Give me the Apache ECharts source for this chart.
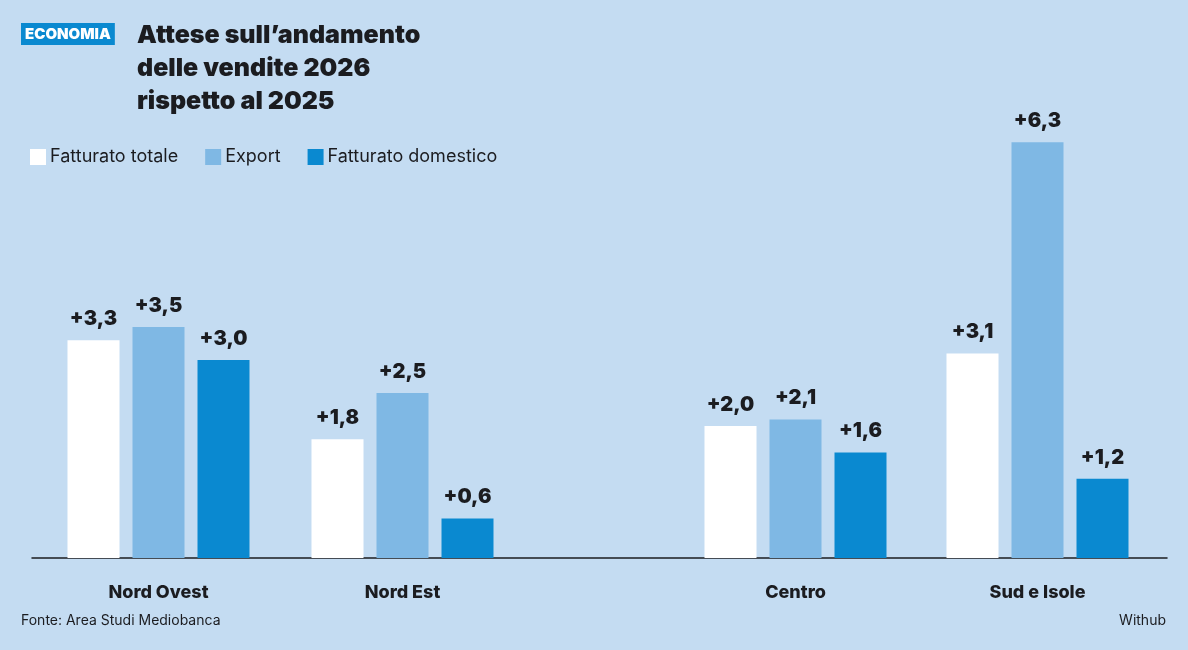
<!DOCTYPE html>
<html>
<head>
<meta charset="utf-8">
<script src="https://cdn.jsdelivr.net/npm/echarts@6/dist/echarts.min.js"></script>
<style>
html,body{margin:0;padding:0;background:#c4dcf2;}
#chart{width:1188px;height:650px;}
</style>
</head>
<body>
<div id="chart"></div>
<script>
const categories = ['Nord Ovest', 'Nord Est', 'Centro', 'Sud e Isole'];
const seriesNames = ['Fatturato totale', 'Export', 'Fatturato domestico'];
const fatturatoTotale = [3.3, 1.8, 2.0, 3.1];
const exportVals = [3.5, 2.5, 2.1, 6.3];
const fatturatoDomestico = [3.0, 0.6, 1.6, 1.2];
const colors = ['#ffffff', '#7fb8e4', '#0a89d0'];

const seriesValues = [fatturatoTotale, exportVals, fatturatoDomestico];
const FONT = 'Inter, "Noto Sans", sans-serif';
const DARK = '#1b1c20';

const fmt = v => '+' + v.toFixed(1).replace('.', ',');

const chart = echarts.init(document.getElementById('chart'));

const yMax = 6.5;
const grids = [
  {left: 32, right: 21, top: 129, bottom: 92},
  {left: 36.5, width: 488, top: 129, bottom: 92},
  {left: 674.5, width: 484, top: 129, bottom: 92}
];

const catLabel = {margin: 26, fontSize: 18, fontWeight: 800, color: DARK, fontFamily: FONT};
const xAxes = [
  {gridIndex: 0, type: 'category', data: [''], axisLine: {show: true, lineStyle: {color: DARK, width: 1.5}},
   axisTick: {show: false}, axisLabel: {show: false}},
  {gridIndex: 1, type: 'category', data: categories.slice(0, 2), axisLine: {show: false}, axisTick: {show: false},
   axisLabel: catLabel},
  {gridIndex: 2, type: 'category', data: categories.slice(2, 4), axisLine: {show: false}, axisTick: {show: false},
   axisLabel: catLabel}
];
const yAxes = [0, 1, 2].map(i => ({
  gridIndex: i, type: 'value', min: 0, max: yMax, show: false, splitLine: {show: false}
}));

const series = [];
[[1, 0, 2], [2, 2, 4]].forEach(([gi, s, e]) => {
  seriesNames.forEach((name, k) => {
    series.push({
      name: name,
      type: 'bar',
      xAxisIndex: gi,
      yAxisIndex: gi,
      data: seriesValues[k].slice(s, e),
      barWidth: 52,
      barGap: '25%',
      itemStyle: {color: colors[k]},
      label: {
        show: true, position: 'top', distance: 11,
        formatter: p => fmt(p.value),
        fontSize: 20, fontWeight: 900, color: DARK, fontFamily: FONT
      }
    });
  });
});

chart.setOption({
  backgroundColor: '#c4dcf2',
  animation: false,
  title: [
    {text: 'Attese sull\u2019andamento\ndelle vendite 2026\nrispetto al 2025', left: 137, top: 19, padding: 0,
     textStyle: {fontSize: 25, fontWeight: 900, color: DARK, fontFamily: FONT, lineHeight: 33}},
    {text: 'ECONOMIA', left: 21, top: 23, backgroundColor: '#0a89d0', padding: [3, 4, 2, 4],
     textStyle: {fontSize: 15, fontWeight: 900, color: '#ffffff', fontFamily: FONT, lineHeight: 17}},
    {text: 'Fonte: Area Studi Mediobanca', left: 21, top: 614, padding: 0,
     textStyle: {fontSize: 14, fontWeight: 'normal', color: DARK, fontFamily: FONT}},
    {text: 'Withub', right: 22, top: 614, padding: 0,
     textStyle: {fontSize: 14, fontWeight: 'normal', color: DARK, fontFamily: FONT}}
  ],
  legend: {
    data: seriesNames, left: 30, top: 148, padding: 0, itemWidth: 16, itemHeight: 16, itemGap: 27,
    icon: 'rect',
    textStyle: {fontSize: 18, color: DARK, fontFamily: FONT, padding: [0, 0, 0, -1]}
  },
  grid: grids,
  xAxis: xAxes,
  yAxis: yAxes,
  series: series
});
</script>
</body>
</html>
